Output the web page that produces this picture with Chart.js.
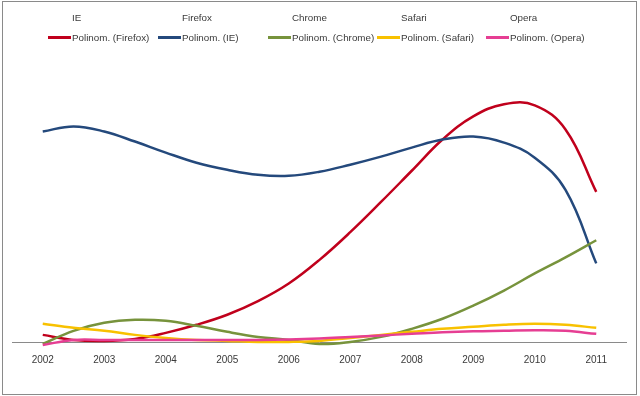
<!DOCTYPE html>
<html>
<head>
<meta charset="utf-8">
<script src="https://cdn.jsdelivr.net/npm/chart.js@4"></script>
<style>
  body { margin: 0; background: #fff; }
  #wrap { position: relative; width: 640px; height: 396px; }
  #frame { position: absolute; left: 2px; top: 1px; width: 633px; height: 392px; border: 1px solid #8a8a8a; }
  #legend { position: absolute; left: 0; top: 0; width: 640px; height: 50px;
            font-family: "Liberation Sans", Arial, sans-serif; font-size: 9.8px; color: #3a3a3a; }
  .item { position: absolute; white-space: nowrap; line-height: 12px; }
  .sym { display: inline-block; width: 23px; height: 3px; vertical-align: middle; margin-right: 1px; position: relative; top: -1px; }
</style>
</head>
<body>
<div id="wrap">
  <canvas id="myChart" width="640" height="396"></canvas>
  <div id="frame"></div>
  <div id="legend"></div>
</div>
<script>
const years = [2002, 2003, 2004, 2005, 2006, 2007, 2008, 2009, 2010, 2011];
const xs = [2002, 2002.5, 2003, 2003.5, 2004, 2004.5, 2005, 2005.5, 2006, 2006.5,
            2007, 2007.5, 2008, 2008.5, 2009, 2009.5, 2010, 2010.5, 2011];

const firefox = [3.2, 1.2, 0.8, 1.6, 4, 7.2, 11.2, 16.6, 23.6, 33, 44, 56, 68.4, 80.8, 90, 94.8, 94.4, 84.8, 60];
const ie      = [84, 86, 84, 80, 75.6, 71.6, 68.8, 66.8, 66.4, 68, 70.8, 74, 77.6, 80.8, 82, 79.6, 73.6, 60.8, 31.6];
const chrome  = [-0.4, 4.8, 8, 9.2, 8.8, 6.8, 4.4, 2.4, 1.2, -0.4, 0.4, 2.4, 5.6, 9.6, 14.8, 20.8, 27.6, 34, 40.8];
const safari  = [7.6, 6, 4.8, 3.2, 2, 1.2, 0.8, 0.4, 0.4, 0.8, 2, 3.2, 4.4, 5.6, 6.4, 7.2, 7.6, 7.2, 6];
const opera   = [-0.8, 1.2, 1.2, 1.2, 1.2, 1.2, 1.2, 1.2, 1.4, 1.8, 2.4, 3, 3.6, 4.2, 4.6, 4.8, 5, 4.8, 3.6];

const seriesNames = ['IE', 'Firefox', 'Chrome', 'Safari', 'Opera'];
const trendNames = ['Polinom. (Firefox)', 'Polinom. (IE)', 'Polinom. (Chrome)', 'Polinom. (Safari)', 'Polinom. (Opera)'];
const trendData = [firefox, ie, chrome, safari, opera];
const colors = ['#C0001C', '#24497C', '#77933C', '#F8C100', '#E63E93'];

function pts(vals) {
  return vals.map((v, i) => ({ x: xs[i], y: v }));
}

// legend built as html, two rows like the excel one
const legend = document.getElementById('legend');
const colLeft = [48, 158, 268, 377, 486];
seriesNames.forEach((name, i) => {
  let d = document.createElement('div');
  d.className = 'item';
  d.style.left = (colLeft[i] + 24) + 'px';
  d.style.top = '12px';
  d.textContent = name;
  legend.appendChild(d);
});
trendNames.forEach((name, i) => {
  let d = document.createElement('div');
  d.className = 'item';
  d.style.left = colLeft[i] + 'px';
  d.style.top = '32px';
  let s = document.createElement('span');
  s.className = 'sym';
  s.style.background = colors[i];
  d.appendChild(s);
  d.appendChild(document.createTextNode(name));
  legend.appendChild(d);
});

const ctx = document.getElementById('myChart');
const myChart = new Chart(ctx, {
  type: 'line',
  data: {
    datasets: trendData.map((vals, i) => ({
      label: trendNames[i],
      data: pts(vals),
      borderColor: colors[i],
      borderWidth: 2.5,
      pointRadius: 0,
      tension: 0.4,
      fill: false,
      order: 4 - i
    }))
  },
  options: {
    responsive: false,
    animation: false,
    layout: { padding: { left: 12, right: 13, top: 61, bottom: 29 } },
    plugins: { legend: { display: false }, tooltip: { enabled: false } },
    scales: {
      x: {
        type: 'linear',
        min: 2001.5,
        max: 2011.5,
        afterBuildTicks: (scale) => { scale.ticks = years.map(v => ({ value: v })); },
        grid: { display: false, drawTicks: false },
        border: { display: false },
        ticks: {
          callback: (v) => String(v),
          color: '#3a3a3a',
          padding: 1,
          maxRotation: 0,
          font: { family: '"Liberation Sans", Arial, sans-serif', size: 10 }
        }
      },
      y: {
        min: -4,
        max: 112,
        ticks: { display: false, stepSize: 4 },
        border: { display: false },
        grid: {
          drawTicks: false,
          lineWidth: 1,
          color: (c) => (c.tick && c.tick.value === 0) ? '#8a8a8a' : 'rgba(0,0,0,0)'
        }
      }
    }
  }
});
</script>
</body>
</html>
